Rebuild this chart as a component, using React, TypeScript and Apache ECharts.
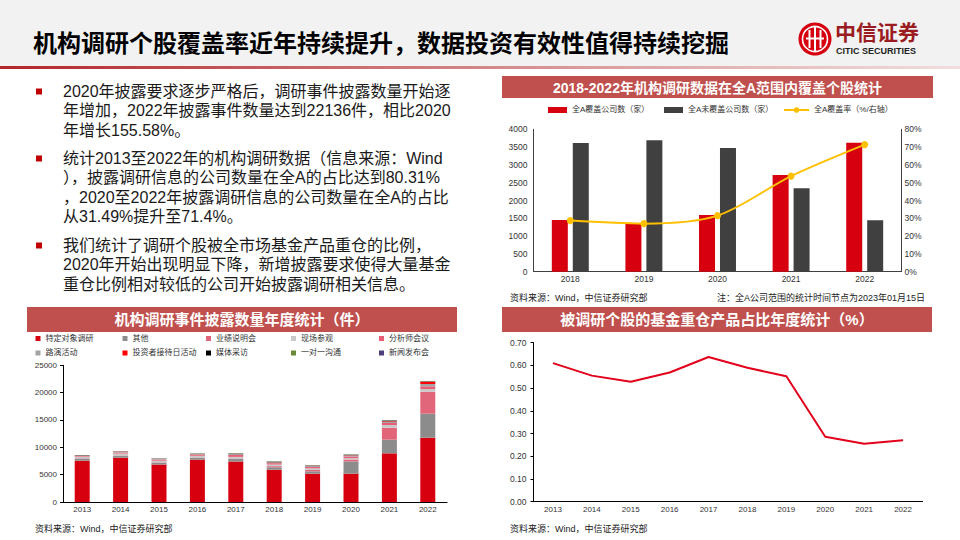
import React, { useEffect, useRef } from "react";
import * as echarts from "echarts";

// ---------- DATA ----------
const coverYears = ["2018", "2019", "2020", "2021", "2022"];
const coveredCount = [1452, 1358, 1592, 2717, 3625];
const uncoveredCount = [3616, 3691, 3475, 2342, 1443];
const coverageRate = [28.7, 27.0, 31.49, 53.7, 71.4];
const coverSeriesNames = ["全A覆盖公司数（家）", "全A未覆盖公司数（家）", "全A覆盖率（%/右轴）"];

const eventYears = ["2013", "2014", "2015", "2016", "2017", "2018", "2019", "2020", "2021", "2022"];
const eventSeriesNames = [
  "特定对象调研", "其他", "业绩说明会", "现场参观", "分析师会议",
  "路演活动", "投资者接待日活动", "媒体采访", "一对一沟通", "新闻发布会",
];
const specificResearch = [7550, 8100, 6850, 7750, 7400, 5900, 5180, 5180, 8900, 11760];
const otherEvents = [400, 350, 350, 350, 500, 450, 430, 2240, 2500, 4390];
const earningsCall = [50, 50, 50, 50, 50, 200, 250, 350, 2190, 4020];
const siteVisit = [300, 350, 300, 300, 300, 300, 300, 250, 490, 500];
const analystMeeting = [150, 200, 200, 200, 350, 250, 250, 300, 370, 490];
const roadshow = [50, 100, 150, 100, 200, 150, 200, 200, 240, 420];
const investorDay = [10, 20, 20, 20, 20, 30, 30, 50, 100, 420];
const mediaInterview = [60, 30, 20, 20, 20, 40, 30, 40, 60, 40];
const oneOnOne = [20, 50, 40, 80, 100, 100, 60, 80, 100, 60];
const pressConference = [10, 20, 20, 20, 20, 30, 20, 30, 50, 36];
const eventSeriesData = [
  specificResearch, otherEvents, earningsCall, siteVisit, analystMeeting,
  roadshow, investorDay, mediaInterview, oneOnOne, pressConference,
];

const fundYears = ["2013", "2014", "2015", "2016", "2017", "2018", "2019", "2020", "2021", "2022"];
const fundHoldingRatio = [0.61, 0.555, 0.528, 0.569, 0.637, 0.59, 0.552, 0.286, 0.255, 0.271];

const pageTitle = "机构调研个股覆盖率近年持续提升，数据投资有效性值得持续挖掘";
const paragraphs = [
  [
    "2020年披露要求逐步严格后，调研事件披露数量开始逐",
    "年增加，2022年披露事件数量达到22136件，相比2020",
    "年增长155.58%。",
  ],
  [
    "统计2013至2022年的机构调研数据（信息来源：Wind",
    "），披露调研信息的公司数量在全A的占比达到80.31%",
    "，2020至2022年披露调研信息的公司数量在全A的占比",
    "从31.49%提升至71.4%。",
  ],
  [
    "我们统计了调研个股被全市场基金产品重仓的比例，",
    "2020年开始出现明显下降，新增披露要求使得大量基金",
    "重仓比例相对较低的公司开始披露调研相关信息。",
  ],
];
const chartTitles = [
  "2018-2022年机构调研数据在全A范围内覆盖个股统计",
  "机构调研事件披露数量年度统计（件）",
  "被调研个股的基金重仓产品占比年度统计（%）",
];
const sourceNote = "资料来源：Wind，中信证券研究部";
const coverNote = "注：全A公司范围的统计时间节点为2023年01月15日";

// ---------- STYLE ----------
const FONT = "'Liberation Sans', 'Noto Sans CJK SC', sans-serif";
const CJK = "'Noto Sans CJK SC', sans-serif";
const eventColors = [
  "#d7000f", "#8c8c8c", "#e2667a", "#c8c8c8", "#e95d77",
  "#a3a3a3", "#ff0000", "#000000", "#6b8b3a", "#4e3d7b",
];
const barRed = "#d7000f";
const barDark = "#404040";
const rateYellow = "#ffc000";
const panelRed = "#c0504d";

function txt(text: string, x: number, y: number, o: any = {}) {
  const align = o.align || "left";
  const va = o.va || "middle";
  return {
    type: "text",
    x,
    y,
    silent: true,
    style: {
      text,
      fill: o.fill || "#1a1a1a",
      fontSize: o.size || 12,
      fontWeight: o.weight || "normal",
      fontFamily: o.family || FONT,
      align,
      textAlign: align,
      verticalAlign: va,
      textVerticalAlign: va,
    },
  };
}

export default function App() {
  const ref = useRef<HTMLDivElement>(null);

  useEffect(() => {
    if (!ref.current) return;
    const chart = echarts.init(ref.current, undefined, { renderer: "svg" });

    const graphics: any[] = [];
    // header
    graphics.push({ type: "rect", shape: { x: 0, y: 0, width: 960, height: 67 }, style: { fill: "#f2f2f2" }, silent: true });
    graphics.push({
      type: "rect",
      shape: { x: 0, y: 66, width: 960, height: 3 },
      style: {
        fill: new echarts.graphic.LinearGradient(0, 0, 1, 0, [
          { offset: 0, color: "#b3262b" },
          { offset: 0.6, color: "#d99a9a" },
          { offset: 1, color: "#f1dede" },
        ]),
      },
      silent: true,
    });
    graphics.push(txt(pageTitle, 33, 41, { size: 24, weight: "bold", family: CJK, fill: "#000" }));
    // logo
    graphics.push({ type: "circle", shape: { cx: 815, cy: 39, r: 16.5 }, style: { fill: "#d7000f" }, silent: true });
    graphics.push({ type: "circle", shape: { cx: 815, cy: 39, r: 12.5 }, style: { fill: "none", stroke: "#fff", lineWidth: 1.6 }, silent: true });
    graphics.push({ type: "rect", shape: { x: 808.5, y: 30, width: 2, height: 18 }, style: { fill: "#fff" }, silent: true });
    graphics.push({ type: "rect", shape: { x: 814, y: 27, width: 2, height: 24 }, style: { fill: "#fff" }, silent: true });
    graphics.push({ type: "rect", shape: { x: 819.5, y: 30, width: 2, height: 18 }, style: { fill: "#fff" }, silent: true });
    graphics.push({ type: "rect", shape: { x: 806, y: 37.5, width: 18, height: 2 }, style: { fill: "#fff" }, silent: true });
    graphics.push(txt("中信证券", 835, 30.5, { size: 21, weight: "bold", family: CJK, fill: "#9a1b20" }));
    graphics.push(txt("CITIC SECURITIES", 836, 51, { size: 9, weight: "bold", family: "'Liberation Sans Narrow', 'Liberation Sans', sans-serif", fill: "#222" }));

    // bullets
    const paraTops = [91.5, 158.5, 245.5];
    paragraphs.forEach((lines, pi) => {
      const y0 = paraTops[pi];
      graphics.push({ type: "rect", shape: { x: 36, y: y0 - 3, width: 6, height: 6 }, style: { fill: "#c00000" }, silent: true });
      lines.forEach((line, li) => {
        graphics.push(txt(line, 63, y0 + li * 19.4, { size: 16, fill: "#1a1a1a" }));
      });
    });

    // panel title bars
    graphics.push({ type: "rect", shape: { x: 502, y: 76, width: 431, height: 22 }, style: { fill: panelRed }, silent: true });
    graphics.push(txt(chartTitles[0], 717.5, 87.5, { size: 14, weight: "bold", fill: "#fff", align: "center" }));
    graphics.push({ type: "rect", shape: { x: 27, y: 307, width: 430, height: 25 }, style: { fill: panelRed }, silent: true });
    graphics.push(txt(chartTitles[1], 242, 319.5, { size: 15, weight: "bold", fill: "#fff", align: "center" }));
    graphics.push({ type: "rect", shape: { x: 502, y: 307, width: 430, height: 25 }, style: { fill: panelRed }, silent: true });
    graphics.push(txt(chartTitles[2], 717, 319.5, { size: 15, weight: "bold", fill: "#fff", align: "center" }));

    // notes
    graphics.push(txt(sourceNote, 510, 297.5, { size: 9, fill: "#222" }));
    graphics.push(txt(coverNote, 925, 297.5, { size: 9, fill: "#222", align: "right" }));
    graphics.push(txt(sourceNote, 35, 529, { size: 9, fill: "#222" }));
    graphics.push(txt(sourceNote, 510, 529, { size: 9, fill: "#222" }));

    // legends
    const legendBase = (name: string, left: number, top: number, w: number, h: number) => ({
      data: [name],
      left,
      top,
      padding: 0,
      itemWidth: w,
      itemHeight: h,
      selectedMode: false,
      textStyle: { fontSize: 8, color: "#333", fontFamily: FONT },
    });
    const legends: any[] = [
      { ...legendBase(coverSeriesNames[0], 548, 106, 19, 6), icon: "rect" },
      { ...legendBase(coverSeriesNames[1], 664, 106, 19, 6), icon: "rect" },
      legendBase(coverSeriesNames[2], 783, 106, 25, 7),
    ];
    const legendCols = [35.5, 122.5, 206, 291, 379];
    const legendRows = [334.5, 349];
    eventSeriesNames.forEach((n, i) => {
      legends.push({ ...legendBase(n, legendCols[i % 5], legendRows[Math.floor(i / 5)], 5, 5), icon: "rect" });
    });

    const plain = (v: number) => String(v);
    const axisLabel = (size: number, margin: number, extra: any = {}) => ({
      fontSize: size,
      color: "#333",
      fontFamily: FONT,
      margin,
      ...extra,
    });

    const option: any = {
      animation: false,
      backgroundColor: "#ffffff",
      graphic: { elements: graphics },
      legend: legends,
      grid: [
        { left: 533.5, top: 129.3, width: 368, height: 142.4 },
        { left: 63, top: 365.3, width: 384, height: 136.7 },
        { left: 533.5, top: 342.7, width: 389, height: 159 },
      ],
      xAxis: [
        {
          gridIndex: 0,
          type: "category",
          data: coverYears,
          axisLine: { lineStyle: { color: "#404040", width: 1 } },
          axisTick: { show: false },
          axisLabel: axisLabel(8.5, 3),
        },
        {
          gridIndex: 1,
          type: "category",
          data: eventYears,
          axisLine: { lineStyle: { color: "#000", width: 1.2 } },
          axisTick: { show: false },
          axisLabel: axisLabel(8, 3),
        },
        {
          gridIndex: 2,
          type: "category",
          data: fundYears,
          axisLine: { lineStyle: { color: "#000", width: 1.2 } },
          axisTick: { show: false },
          axisLabel: axisLabel(8, 4),
        },
      ],
      yAxis: [
        {
          gridIndex: 0,
          type: "value",
          min: 0,
          max: 4000,
          interval: 500,
          axisLine: { show: true, lineStyle: { color: "#404040" } },
          axisTick: { show: false },
          splitLine: { show: false },
          axisLabel: axisLabel(8.5, 6, { formatter: plain }),
        },
        {
          gridIndex: 0,
          type: "value",
          position: "right",
          min: 0,
          max: 80,
          interval: 10,
          axisLine: { show: true, lineStyle: { color: "#404040" } },
          axisTick: { show: false },
          splitLine: { show: false },
          axisLabel: axisLabel(8.5, 3, { formatter: "{value}%" }),
        },
        {
          gridIndex: 1,
          type: "value",
          min: 0,
          max: 25000,
          interval: 5000,
          axisLine: { show: true, lineStyle: { color: "#000" } },
          axisTick: { show: true, length: 3, lineStyle: { color: "#000" } },
          splitLine: { show: false },
          axisLabel: axisLabel(8, 6, { formatter: plain }),
        },
        {
          gridIndex: 2,
          type: "value",
          min: 0,
          max: 0.7,
          interval: 0.1,
          axisLine: { show: true, lineStyle: { color: "#000" } },
          axisTick: { show: true, length: 3, lineStyle: { color: "#000" } },
          splitLine: { show: false },
          axisLabel: axisLabel(8.5, 7, { formatter: (v: number) => v.toFixed(2) }),
        },
      ],
      series: [
        {
          name: coverSeriesNames[0],
          type: "bar",
          xAxisIndex: 0,
          yAxisIndex: 0,
          data: coveredCount,
          barWidth: 16,
          barGap: "31%",
          itemStyle: { color: barRed },
        },
        {
          name: coverSeriesNames[1],
          type: "bar",
          xAxisIndex: 0,
          yAxisIndex: 0,
          data: uncoveredCount,
          barWidth: 16,
          barGap: "31%",
          itemStyle: { color: barDark },
        },
        {
          name: coverSeriesNames[2],
          type: "line",
          xAxisIndex: 0,
          yAxisIndex: 1,
          data: coverageRate,
          smooth: 0.3,
          symbol: "circle",
          symbolSize: 7,
          lineStyle: { color: rateYellow, width: 2 },
          itemStyle: { color: rateYellow },
          z: 5,
        },
        ...eventSeriesNames.map((n, i) => ({
          name: n,
          type: "bar",
          stack: "events",
          xAxisIndex: 1,
          yAxisIndex: 2,
          data: eventSeriesData[i],
          barWidth: 15,
          itemStyle: { color: eventColors[i] },
        })),
        {
          name: "基金重仓产品占比",
          type: "line",
          xAxisIndex: 2,
          yAxisIndex: 3,
          data: fundHoldingRatio,
          symbol: "none",
          lineStyle: { color: "#e3001b", width: 2 },
          itemStyle: { color: "#e3001b" },
        },
      ],
    };

    chart.setOption(option);
    return () => {
      chart.dispose();
    };
  }, []);

  return (
    <div
      ref={ref}
      style={{ position: "fixed", left: 0, top: 0, width: 960, height: 540, background: "#fff" }}
    />
  );
}
